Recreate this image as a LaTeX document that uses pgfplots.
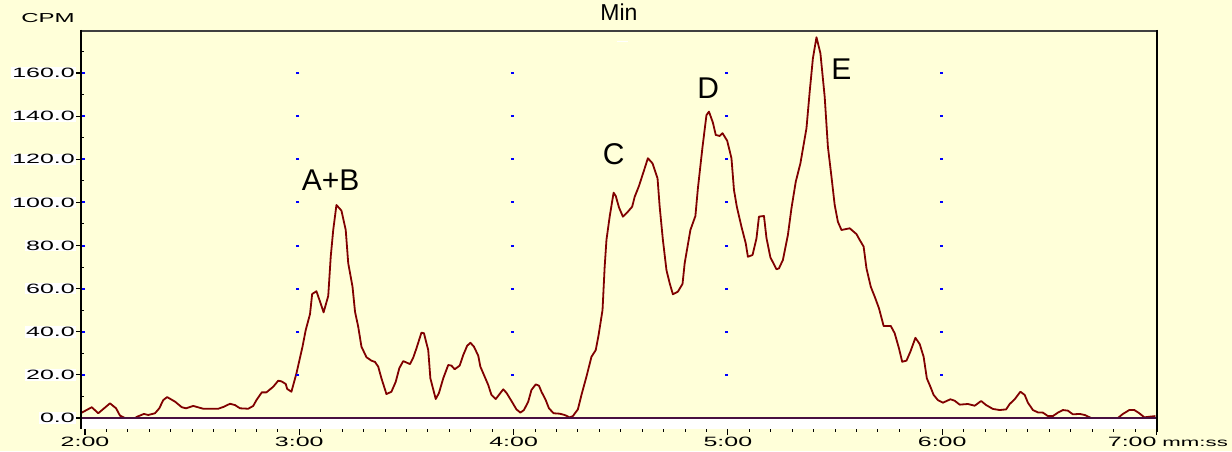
\documentclass[border=0pt]{standalone}
\usepackage{fontspec}
\setmainfont{Liberation Sans}
\newfontfamily\tickfont[FakeStretch=1.85]{Liberation Sans}
\usepackage{pgfplots}
\pgfplotsset{compat=1.18}
\definecolor{bg}{RGB}{255,255,217}
\definecolor{curve}{RGB}{128,0,0}
\definecolor{base}{RGB}{72,16,64}
\begin{document}
\begin{tikzpicture}[x=1pt,y=1pt]
\fill[bg] (0,0) rectangle (1232,451);
\begin{axis}[
  at={(81pt,22pt)}, anchor=south west,
  scale only axis, width=1075.5pt, height=398pt,
  xmin=118.88, xmax=420, ymin=-5.1, ymax=179.5,
  axis line style={draw=none},
  tick pos=left,
  tick align=outside,
  xtick={120,180,240,300,360,420},
  xticklabels={2:00,3:00,4:00,5:00,6:00,{\llap{7:00}\rlap{\hspace{6pt}{\fontsize{12}{12}\selectfont mm:ss}}}},
  minor x tick num=9,
  ytick={0,20,40,60,80,100,120,140,160},
  yticklabels={0.0,20.0,40.0,60.0,80.0,100.0,120.0,140.0,160.0},
  minor ytick={10,30,50,70,90,110,130,150,170},
  major tick length=6pt,
  minor tick length=2.5pt,
  every major y tick/.style={line width=1.2pt, black},
  every minor y tick/.style={line width=1pt, black, xshift=3pt},
  every major x tick/.style={line width=1.2pt, black},
  every minor x tick/.style={line width=1pt, black},
  xticklabel style={font=\tickfont\fontsize{13.5}{14}\selectfont, inner sep=1pt, yshift=-1pt},
  yticklabel style={font=\tickfont\fontsize{13.5}{14}\selectfont, fill=white, inner sep=1pt, xshift=1pt},
  clip=true,
]
\fill[white] (axis cs:118.88,-5.1) rectangle (axis cs:420,0);
\addplot[only marks, mark=-, mark size=1.6pt, blue, line width=2pt] coordinates {
(179.6,20)(179.6,40)(179.6,60)(179.6,80)(179.6,100)(179.6,120)(179.6,140)(179.6,160)
(239.6,20)(239.6,40)(239.6,60)(239.6,80)(239.6,100)(239.6,120)(239.6,140)(239.6,160)
(299.6,20)(299.6,40)(299.6,60)(299.6,80)(299.6,100)(299.6,120)(299.6,140)(299.6,160)
(359.7,20)(359.7,40)(359.7,60)(359.7,80)(359.7,100)(359.7,120)(359.7,140)(359.7,160)
};
\addplot[only marks, mark=-, mark size=2pt, blue, line width=2pt] coordinates {
(119.5,20)(119.5,40)(119.5,60)(119.5,80)(119.5,100)(119.5,120)(119.5,140)(119.5,160)
};
\addplot[curve, line width=1.8pt, line join=round] coordinates {
(118.9,2.5)(119.1,2.5)(121.9,5.0)(123.7,2.2)(127.0,6.8)(128.7,4.5)(129.8,1.1)(131.2,0)(134.0,0)
(134.6,0.6)(136.5,1.9)(137.7,1.4)(139.6,2.2)(140.8,4.5)(141.9,8.3)(143.0,9.7)(145.2,7.6)
(147.1,5.0)(148.3,4.5)(150.3,5.6)(153.1,4.3)(157.3,4.3)(158.7,5.1)(160.6,6.6)(162.0,6.0)
(163.4,4.5)(165.7,4.3)(167.1,5.6)(168.0,8.3)(169.5,11.9)(170.8,11.9)(172.7,14.5)(174.1,17.3)
(175.0,17.0)(176.2,15.8)(176.6,13.5)(177.8,12.2)(179.2,20.7)(180.9,33.1)(181.8,40.8)(183.0,48.2)
(183.6,57.5)(184.8,58.8)(185.8,54.0)(186.8,49.0)(188.1,56.6)(188.8,74.8)(189.5,87.2)(190.4,98.8)
(191.8,96.2)(193.0,87.2)(193.7,71.8)(194.9,60.9)(195.6,49.3)(196.5,42.3)(197.4,33.1)(198.8,28.2)
(200.2,26.6)(201.2,26.0)(202.1,23.8)(203.0,18.4)(204.4,11.1)(205.8,12.2)(207.0,16.8)(208.0,23.1)
(209.1,26.4)(211.0,25.0)(211.9,28.0)(212.8,32.3)(214.2,39.6)(214.9,39.3)(216.1,31.5)(216.7,18.4)
(218.2,8.8)(219.1,11.6)(220.3,18.4)(221.7,24.6)(222.6,24.3)(223.5,22.6)(224.9,24.3)(225.9,29.2)
(227.0,33.5)(227.9,34.9)(228.9,33.1)(230.1,28.9)(230.7,23.8)(231.9,19.2)(232.9,15.3)(233.8,10.7)
(235.0,8.8)(237.1,13.3)(238.0,11.7)(239.4,7.9)(240.8,4.0)(241.9,2.5)(242.9,3.7)(244.1,7.6)
(245.0,13.0)(246.2,15.6)(247.1,15.0)(247.8,12.2)(249.0,8.3)(249.9,4.5)(251.2,2.2)(252.9,2.0)
(254.3,1.4)(255.7,0.3)(256.6,0.9)(258.0,4.0)(259.0,10.7)(260.4,19.2)(261.8,28.4)(263.0,31.5)
(263.8,38.5)(264.9,50.1)(265.5,70.2)(266.0,82.6)(266.9,93.4)(268.0,104.5)(268.6,103.0)(269.5,97.7)
(270.6,93.4)(272.0,95.7)(273.2,98.0)(273.9,102.6)(275.1,107.6)(275.8,111.2)(276.7,115.8)(277.6,120.5)
(278.9,118.1)(280.3,111.2)(280.9,98.0)(281.8,82.6)(282.8,68.6)(283.7,62.5)(284.6,57.4)(286.0,58.6)
(287.3,62.2)(287.9,71.8)(289.5,87.2)(290.9,93.7)(291.6,106.5)(292.9,125.8)(294.0,140.5)(294.7,142.1)
(295.8,137.0)(296.6,131.3)(297.7,130.8)(298.5,132.1)(299.8,128.6)(301.0,120.5)(301.7,105.8)(302.5,98.0)
(303.8,88.7)(305.0,81.0)(305.6,74.8)(306.9,75.6)(308.0,83.3)(308.7,93.4)(310.1,93.7)(310.8,83.5)
(311.9,74.5)(313.6,69.0)(314.3,69.4)(315.4,73.3)(316.8,84.9)(317.8,97.3)(319.0,109.6)(320.3,118.1)
(322.0,134.4)(322.9,151.3)(323.8,166.8)(324.8,176.6)(325.9,169.2)(327.1,149.0)(328.0,125.8)(329.0,111.9)
(329.9,98.8)(330.8,91.0)(331.8,87.2)(334.1,88.0)(336.0,85.3)(336.9,82.6)(338.0,79.5)(338.8,69.4)
(340.0,60.9)(341.1,56.3)(342.3,50.9)(343.6,42.7)(345.6,42.7)(346.7,39.3)(347.9,32.3)(348.8,26.1)
(350.0,26.6)(351.1,30.8)(352.5,37.2)(353.7,34.3)(354.8,28.4)(355.7,18.4)(356.7,14.5)(357.6,10.7)
(358.8,8.3)(360.2,7.1)(362.3,8.7)(363.5,8.0)(364.9,6.2)(367.2,6.5)(369.1,5.7)(370.9,7.9)
(372.3,6.0)(374.2,4.2)(376.1,3.7)(377.9,4.0)(378.9,6.5)(380.3,8.7)(381.9,12.2)(383.1,10.7)
(384.0,7.1)(385.4,3.7)(386.8,2.6)(388.2,2.5)(389.6,0.9)(391.0,0.9)(392.4,2.5)(393.8,3.7)
(395.2,3.4)(396.6,1.7)(398.5,1.9)(399.9,1.4)(401.7,0)(409.2,0)(410.6,1.9)(412.4,3.7)
(413.8,3.7)(415.2,2.2)(416.6,0.3)(418.0,0.6)(419.7,0.9)
};
\draw[base, line width=2.4pt] (axis cs:118.88,0) -- (axis cs:420,0);
\node[font=\fontsize{30}{30}\selectfont, inner sep=0pt] at (axis cs:188.8,110.4) {A+B};
\node[font=\fontsize{30}{30}\selectfont, inner sep=0pt] at (axis cs:268.0,122.4) {C};
\node[font=\fontsize{30}{30}\selectfont, inner sep=0pt] at (axis cs:294.5,153.1) {D};
\node[font=\fontsize{30}{30}\selectfont, inner sep=0pt] at (axis cs:331.8,161.6) {E};
\end{axis}
\draw[black!75, line width=1.5pt] (81,420) -- (1157,420);
\draw[black, line width=2pt] (81,421) -- (81,22);
\draw[black, line width=2pt] (1156.5,421) -- (1156.5,19);
\draw[white, line width=1.5pt] (617,409.3) -- (628,409.3);
\node[font=\tickfont\fontsize{13}{13}\selectfont, inner sep=0pt] at (48,433) {CPM};
\node[font=\fontsize{23}{23}\selectfont, inner sep=0pt] at (619,439) {Min};
\pgfresetboundingbox
\path (0,0) rectangle (1232,451);
\end{tikzpicture}
\end{document}
